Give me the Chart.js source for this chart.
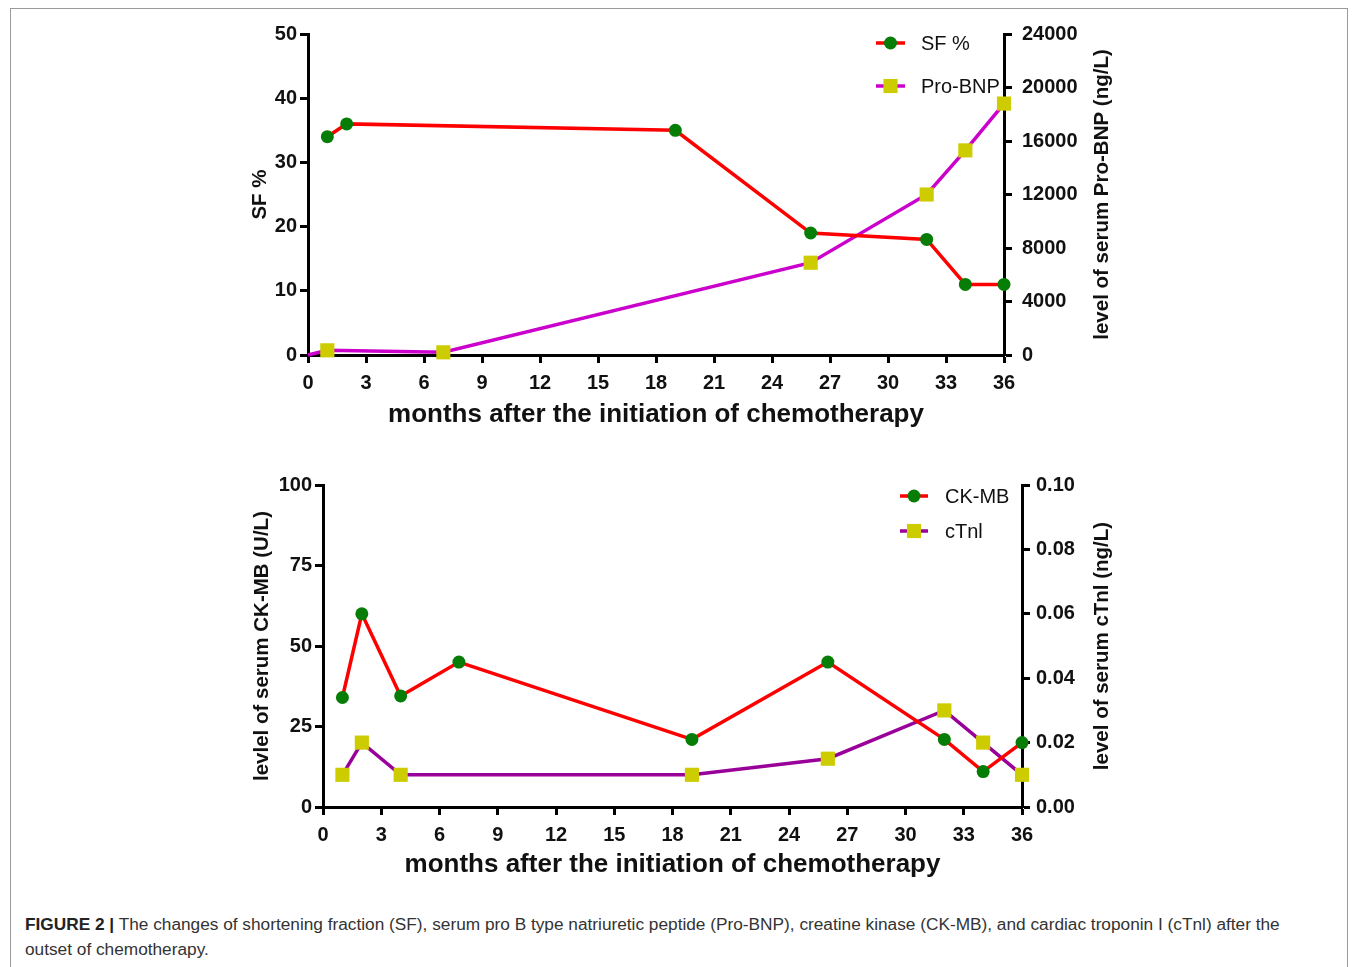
<!DOCTYPE html>
<html>
<head>
<meta charset="utf-8">
<script src="https://cdn.jsdelivr.net/npm/chart.js@4"></script>
<style>
  html, body { margin: 0; padding: 0; background: #fff; }
  body { width: 1357px; height: 967px; position: relative; overflow: hidden; font-family: "Liberation Sans", Arial, sans-serif; }
  .frame { position: absolute; left: 10px; top: 8px; width: 1336px; height: 990px; border: 1px solid #9a9a9a; }
  .box { position: absolute; left: 200px; width: 960px; height: 420px; }
  #top-box { top: 20px; }
  #bottom-box { top: 470px; }
  .caption { position: absolute; left: 25px; top: 912px; font-size: 17.25px; line-height: 25px; color: #333; white-space: nowrap; }
  .caption b { color: #222; }
</style>
</head>
<body>
<div class="frame"></div>
<div class="box" id="top-box"><canvas id="topChart" width="960" height="420"></canvas></div>
<div class="box" id="bottom-box"><canvas id="bottomChart" width="960" height="420"></canvas></div>
<div class="caption"><b>FIGURE 2 |</b> The changes of shortening fraction (SF), serum pro B type natriuretic peptide (Pro-BNP), creatine kinase (CK-MB), and cardiac troponin I (cTnl) after the<br>outset of chemotherapy.</div>
<script>
// --- 上图数据: SF % 与 Pro-BNP ---
const sfMonths = [1, 2, 19, 26, 32, 34, 36];
const sfValues = [34, 36, 35, 19, 18, 11, 11];
const bnpMonths = [0, 1, 7, 26, 32, 34, 36];
const bnpValues = [0, 350, 200, 6900, 12000, 15300, 18800];
const bnpRadius = [0, 10, 10, 10, 10, 10, 10];

// --- 下图数据: CK-MB 与 cTnl ---
const ckMonths = [1, 2, 4, 7, 19, 26, 32, 34, 36];
const ckValues = [34, 60, 34.5, 45, 21, 45, 21, 11, 20];
const ctnMonths = [1, 2, 4, 19, 26, 32, 34, 36];
const ctnValues = [0.01, 0.02, 0.01, 0.01, 0.015, 0.03, 0.02, 0.01];

const monthTicks = { min: 0, max: 36, step: 3 };
const FONT = '"Liberation Sans", Arial, sans-serif';

const toPoints = (xs, ys) => xs.map((x, i) => ({ x: x, y: ys[i] }));

// legend drawn inside the plot, line + marker like the original figure
const inlineLegend = {
  id: 'inlineLegend',
  afterDraw(chart, args, opts) {
    const ctx = chart.ctx;
    chart.data.datasets.forEach((ds, i) => {
      const y = opts.y + i * opts.gap;
      ctx.save();
      ctx.strokeStyle = ds.borderColor;
      ctx.lineWidth = ds.borderWidth;
      ctx.beginPath();
      ctx.moveTo(opts.x, y);
      ctx.lineTo(opts.x + opts.len, y);
      ctx.stroke();
      ctx.fillStyle = ds.pointBackgroundColor;
      Chart.helpers.drawPoint(ctx, { pointStyle: ds.pointStyle, radius: ds.pointStyle === 'rect' ? 10 : 6.5, borderWidth: 0, rotation: 0 }, opts.x + opts.len / 2, y);
      ctx.fillStyle = '#111';
      ctx.font = '20px ' + FONT;
      ctx.textBaseline = 'middle';
      ctx.fillText(ds.label, opts.textX, y + 1);
      ctx.restore();
    });
  }
};

// right axis title reads bottom-to-top in the original
const rightTitle = {
  id: 'rightTitle',
  afterDraw(chart, args, opts) {
    const ctx = chart.ctx;
    const scale = chart.scales.y1;
    const area = chart.chartArea;
    ctx.save();
    ctx.translate(scale.left + opts.offset, (area.top + area.bottom) / 2);
    ctx.rotate(-Math.PI / 2);
    ctx.fillStyle = '#111';
    ctx.font = 'bold 20.5px ' + FONT;
    ctx.textAlign = 'center';
    ctx.textBaseline = 'middle';
    ctx.fillText(opts.text, 0, 0);
    ctx.restore();
  }
};

const axisStyle = () => ({
  grid: { display: true, drawOnChartArea: false, drawTicks: true, tickLength: 8, tickWidth: 3, tickColor: '#000' },
  border: { display: true, color: '#000', width: 3 },
});

// fixed width for vertical axes, no extra top/bottom room for the end labels
const fixVertical = (w) => (s) => {
  s.width = w;
  s.paddingTop = 0;
  s.paddingBottom = 0;
};

const makeChart = (id, cfg) => {
  const xAxis = Object.assign(axisStyle(), {
    type: 'linear', min: monthTicks.min, max: monthTicks.max,
    ticks: { stepSize: monthTicks.step, color: '#111', font: { family: FONT, size: 20, weight: 'bold' }, padding: 8, maxRotation: 0 },
    title: { display: true, text: 'months after the initiation of chemotherapy', color: '#111', font: { family: FONT, size: 26, weight: 'bold' }, padding: { top: 0, bottom: 10 } },
    afterFit: (s) => { s.height = cfg.xHeight; }
  });
  const yAxis = Object.assign(axisStyle(), {
    position: 'left', min: 0, max: cfg.yMax,
    ticks: { stepSize: cfg.yStep, color: '#111', font: { family: FONT, size: 20, weight: 'bold' }, padding: 3 },
    title: { display: true, text: cfg.yTitle, color: '#111', font: { family: FONT, size: 20.5, weight: 'bold' }, padding: { top: cfg.yTitlePad, bottom: 0 } },
    afterFit: fixVertical(cfg.yWidth)
  });
  const y1Axis = Object.assign(axisStyle(), {
    position: 'right', min: 0, max: cfg.y1Max,
    ticks: { stepSize: cfg.y1Step, color: '#111', font: { family: FONT, size: 20, weight: 'bold' }, padding: cfg.y1Pad,
      callback: cfg.y1Fmt },
    afterFit: fixVertical(cfg.y1Width)
  });

  return new Chart(document.getElementById(id), {
    type: 'line',
    data: { datasets: cfg.datasets },
    options: {
      responsive: false,
      animation: false,
      layout: { padding: { top: cfg.padTop, left: 0, right: 0, bottom: 0 } },
      plugins: {
        legend: { display: false },
        tooltip: { enabled: false },
        inlineLegend: cfg.legend,
        rightTitle: cfg.rightTitle
      },
      scales: { x: xAxis, y: yAxis, y1: y1Axis }
    },
    plugins: [inlineLegend, rightTitle]
  });
};

const lineSet = (label, pts, color, marker, style, radius, axis) => ({
  label: label,
  data: pts,
  yAxisID: axis,
  borderColor: color,
  borderWidth: 3.5,
  pointStyle: style,
  pointRadius: radius,
  pointHoverRadius: radius,
  pointBackgroundColor: marker,
  pointBorderWidth: 0,
  tension: 0,
  clip: false
});

makeChart('topChart', {
  padTop: 14, xHeight: 85, yWidth: 108, y1Width: 156,
  yMax: 50, yStep: 10, yTitle: 'SF %', yTitlePad: 48,
  y1Max: 24000, y1Step: 4000, y1Fmt: (v) => String(v), y1Pad: 10,
  legend: { x: 676, y: 23, gap: 43, len: 29, textX: 721 },
  rightTitle: { text: 'level of serum Pro-BNP (ng/L)', offset: 98 },
  datasets: [
    lineSet('SF %', toPoints(sfMonths, sfValues), '#ff0000', '#067d06', 'circle', 6.5, 'y'),
    lineSet('Pro-BNP', toPoints(bnpMonths, bnpValues), '#cc00cc', '#cccc00', 'rect', bnpRadius, 'y1')
  ]
});

makeChart('bottomChart', {
  padTop: 15, xHeight: 83, yWidth: 123, y1Width: 138,
  yMax: 100, yStep: 25, yTitle: 'levlel of serum CK-MB (U/L)', yTitlePad: 50,
  y1Max: 0.1, y1Step: 0.02, y1Fmt: (v) => v.toFixed(2), y1Pad: 6,
  legend: { x: 700, y: 26, gap: 35, len: 28, textX: 745 },
  rightTitle: { text: 'level of serum cTnl (ng/L)', offset: 80 },
  datasets: [
    lineSet('CK-MB', toPoints(ckMonths, ckValues), '#ff0000', '#067d06', 'circle', 6.5, 'y'),
    lineSet('cTnl', toPoints(ctnMonths, ctnValues), '#990099', '#cccc00', 'rect', 10, 'y1')
  ]
});
</script>
</body>
</html>
